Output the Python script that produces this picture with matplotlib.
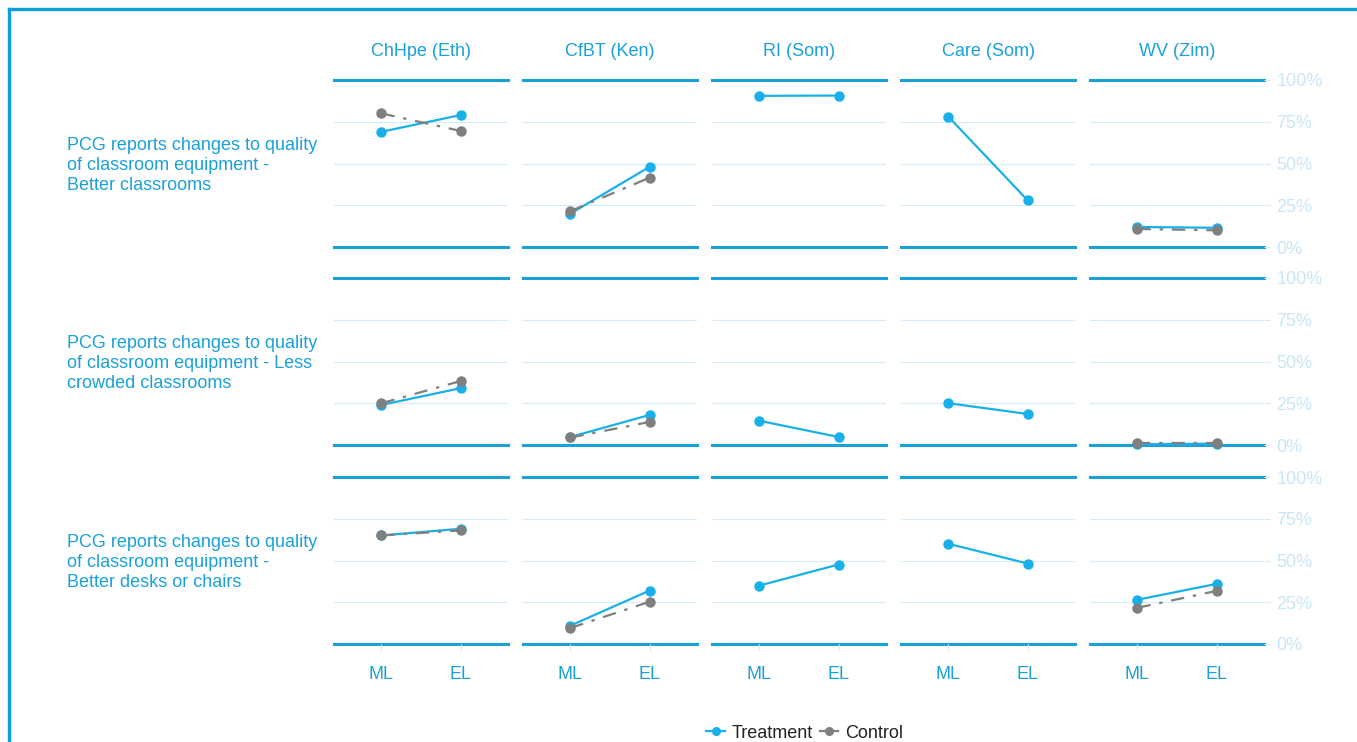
import matplotlib
matplotlib.use("Agg")
import matplotlib.pyplot as plt
from matplotlib.lines import Line2D
import numpy as np

plt.rcParams['font.family'] = ['Liberation Sans', 'DejaVu Sans']

# Programmes (columns) and indicators (rows)
programmes = ['ChHpe (Eth)', 'CfBT (Ken)', 'RI (Som)', 'Care (Som)', 'WV (Zim)']
indicators = [
    'PCG reports changes to quality\nof classroom equipment -\nBetter classrooms',
    'PCG reports changes to quality\nof classroom equipment - Less\ncrowded classrooms',
    'PCG reports changes to quality\nof classroom equipment -\nBetter desks or chairs',
]
rounds = ['ML', 'EL']

# Share of PCGs reporting the change, [ML, EL]; None = no control group
treatment = [
    [[0.69, 0.79], [0.20, 0.48], [0.905, 0.907], [0.78, 0.28], [0.12, 0.115]],
    [[0.24, 0.34], [0.048, 0.18], [0.145, 0.048], [0.25, 0.186], [0.005, 0.008]],
    [[0.65, 0.69], [0.11, 0.32], [0.35, 0.476], [0.60, 0.482], [0.265, 0.36]],
]
control = [
    [[0.80, 0.695], [0.215, 0.415], None, None, [0.108, 0.10]],
    [[0.25, 0.383], [0.045, 0.138], None, None, [0.01, 0.01]],
    [[0.65, 0.68], [0.096, 0.253], None, None, [0.217, 0.318]],
]

BLUE = '#1aa1d9'
TREAT = '#19b0ea'
GREY = '#7f7f7f'
GRID = '#d5ecf8'
LABEL_LIGHT = '#c8e6f6'
FS = 13

fig = plt.figure(figsize=(13.57, 7.42), dpi=100)
W, H = 1357.0, 742.0

col_left = [334, 523, 712, 901, 1090]
row_top = [80, 278, 477]
pw, ph = 174, 167

x = np.arange(1, 3)

for r in range(3):
    for c in range(5):
        ax = fig.add_axes([col_left[c] / W, 1 - (row_top[r] + ph) / H, pw / W, ph / H])
        ax.set_xlim(0.4, 2.6)
        ax.set_ylim(0, 1)
        for s in ax.spines.values():
            s.set_visible(False)
        for g in [0.25, 0.5, 0.75]:
            ax.axhline(g, color=GRID, lw=0.8, zorder=0)
        for g in [0, 1]:
            ax.axhline(g, color=BLUE, lw=2.2, zorder=1, clip_on=False)

        ax.plot(x, treatment[r][c], color=TREAT, lw=1.6, marker='o', ms=6.5,
                zorder=3, clip_on=False)
        if control[r][c] is not None:
            ax.plot(x, control[r][c], color=GREY, lw=1.6, ls='-.', marker='o',
                    ms=6.5, zorder=4, clip_on=False, dashes=(6, 4, 1.5, 4))

        ax.yaxis.tick_right()
        ax.set_yticks([0, 0.25, 0.5, 0.75, 1])
        if c == 4:
            ax.set_yticklabels(['0%', '25%', '50%', '75%', '100%'])
            ax.tick_params(axis='y', colors=GRID, labelcolor=LABEL_LIGHT,
                           labelsize=FS, length=4, width=0.8, pad=5)
        else:
            ax.tick_params(axis='y', length=0, labelright=False)

        ax.set_xticks(x)
        if r == 2:
            ax.set_xticklabels(rounds)
            ax.tick_params(axis='x', colors=GRID, labelcolor=BLUE,
                           labelsize=FS, length=5, width=0.8, pad=11)
        else:
            ax.tick_params(axis='x', length=0, labelbottom=False)

        if r == 0:
            ax.set_title(programmes[c], color=BLUE, fontsize=FS, pad=17)
        if c == 0:
            ax.text(-1.534, 0.488, indicators[r], transform=ax.transAxes,
                    ha='left', va='center', color=BLUE, fontsize=FS,
                    linespacing=1.24)

# outer frame (left and top edges)
fig.add_artist(Line2D([9 / W, 9 / W], [0, 1 - 9 / H], color='#0c9fd8', lw=2.4))
fig.add_artist(Line2D([9 / W, 1], [1 - 9 / H, 1 - 9 / H], color='#0c9fd8', lw=2.4))

handles = [
    Line2D([], [], color=TREAT, lw=1.6, marker='o', ms=5.5),
    Line2D([], [], color=GREY, lw=1.6, marker='o', ms=5.5),
]
fig.legend(handles, ['Treatment', 'Control'], loc='center',
           bbox_to_anchor=(805 / W, 1 - 733 / H), ncol=2, frameon=False,
           fontsize=FS, handlelength=1.0, handletextpad=0.4, columnspacing=0.4,
           labelcolor='#222222')

fig.savefig('out.png', dpi=100)
